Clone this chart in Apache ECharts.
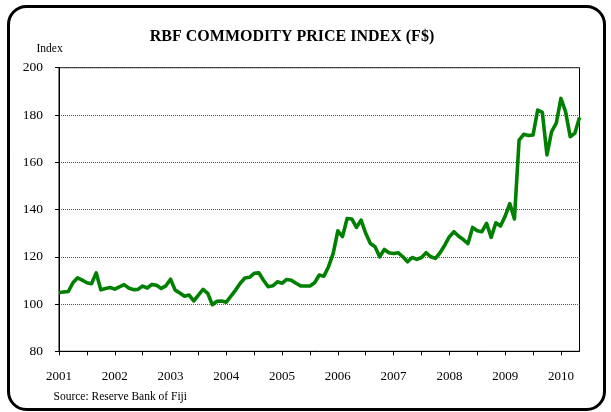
<!DOCTYPE html>
<html>
<head>
<meta charset="utf-8">
<title>RBF Commodity Price Index</title>
<script src="https://cdn.jsdelivr.net/npm/echarts@6/dist/echarts.min.js"></script>
<style>
  html, body { margin: 0; padding: 0; background: #fff; }
  #chart { width: 611px; height: 412px; }
</style>
</head>
<body>
<div id="chart"></div>
<script>
// monthly index, Jan 2001 .. May 2010
const startYear = 2001;
const yearLabels = ['2001', '2002', '2003', '2004', '2005', '2006', '2007', '2008', '2009', '2010'];
const indexValues = [
  104.9, 105.1, 105.3, 109.0, 111.1, 110.1, 109.0, 108.6, 113.2, 106.0, 106.6, 107.0,
  106.3, 107.3, 108.2, 106.8, 106.1, 106.2, 107.6, 106.8, 108.3, 107.9, 106.6, 107.7,
  110.5, 105.9, 104.7, 103.3, 103.8, 101.3, 103.8, 106.2, 104.5, 99.7, 101.2, 101.3,
  100.8, 103.3, 105.9, 108.8, 111.0, 111.3, 113.0, 113.2, 110.1, 107.3, 107.7, 109.4,
  108.8, 110.4, 110.1, 108.8, 107.7, 107.6, 107.6, 109.0, 112.3, 111.8, 115.8, 121.4,
  131.0, 128.5, 136.2, 136.0, 132.4, 135.5, 129.9, 125.6, 124.2, 120.0, 123.1, 121.7,
  121.4, 121.7, 120.0, 117.9, 119.7, 118.9, 119.7, 121.7, 120.0, 119.3, 121.7, 124.9,
  128.5, 130.6, 128.7, 127.3, 125.6, 132.4, 131.0, 130.6, 134.1, 128.2, 134.4, 133.0,
  137.2, 142.5, 136.0, 169.4, 171.8, 171.3, 171.5, 182.1, 181.1, 163.1, 173.0, 176.5,
  187.0, 181.4, 170.8, 172.3, 178.9
];
const yTicks = [80, 100, 120, 140, 160, 180, 200];

// one category per month
const months = indexValues.map((v, i) => {
  const y = startYear + Math.floor(i / 12);
  const m = (i % 12) + 1;
  return y + '-' + (m < 10 ? '0' + m : m);
});

const serif = 'Liberation Serif, Times New Roman, serif';
const chart = echarts.init(document.getElementById('chart'));

const option = {
  backgroundColor: '#fff',
  animation: false,
  grid: {
    left: 59, right: 31.5, top: 67.7, bottom: 60.7,
    show: true, borderColor: '#000', borderWidth: 1
  },
  xAxis: {
    type: 'category',
    data: months,
    boundaryGap: false,
    axisLine: { lineStyle: { color: '#000', width: 1 } },
    axisTick: { show: true, interval: 5, inside: false, length: 4, lineStyle: { color: '#000' } },
    axisLabel: {
      interval: 11,
      margin: 19,
      color: '#000',
      fontFamily: serif,
      fontSize: 13,
      formatter: (val) => yearLabels[(parseInt(val.slice(0, 4), 10) - startYear)]
    },
    splitLine: { show: false }
  },
  yAxis: {
    type: 'value',
    min: yTicks[0],
    max: yTicks[yTicks.length - 1],
    interval: 20,
    axisLine: { show: true, lineStyle: { color: '#000', width: 1 } },
    axisTick: { show: true, inside: false, length: 4, lineStyle: { color: '#000' } },
    axisLabel: { margin: 16, color: '#000', fontFamily: serif, fontSize: 13.5 },
    splitLine: { show: true, lineStyle: { color: '#555', type: 'dotted', width: 1 } }
  },
  series: [{
    name: 'RBF Commodity Price Index',
    type: 'line',
    data: indexValues,
    showSymbol: false,
    symbol: 'none',
    lineStyle: { color: '#008000', width: 3.6, join: 'round' }
  }],
  graphic: [
    {
      type: 'rect', silent: true,
      shape: { x: 8.5, y: 6.5, width: 596, height: 403, r: 18 },
      style: { fill: 'none', stroke: '#000', lineWidth: 3 }
    },
    {
      type: 'text', silent: true,
      style: {
        text: 'RBF COMMODITY PRICE INDEX (F$)', x: 292, y: 37,
        textAlign: 'center', textVerticalAlign: 'middle',
        font: 'bold 16px ' + serif, fill: '#000'
      }
    },
    {
      type: 'text', silent: true,
      style: {
        text: 'Index', x: 36.5, y: 48.5,
        textAlign: 'left', textVerticalAlign: 'middle',
        font: '11.5px ' + serif, fill: '#000'
      }
    },
    {
      type: 'text', silent: true,
      style: {
        text: 'Source: Reserve Bank of Fiji', x: 53.5, y: 397,
        textAlign: 'left', textVerticalAlign: 'middle',
        font: '11.5px ' + serif, fill: '#000'
      }
    }
  ]
};

chart.setOption(option);
window.addEventListener('resize', () => chart.resize());
</script>
</body>
</html>
